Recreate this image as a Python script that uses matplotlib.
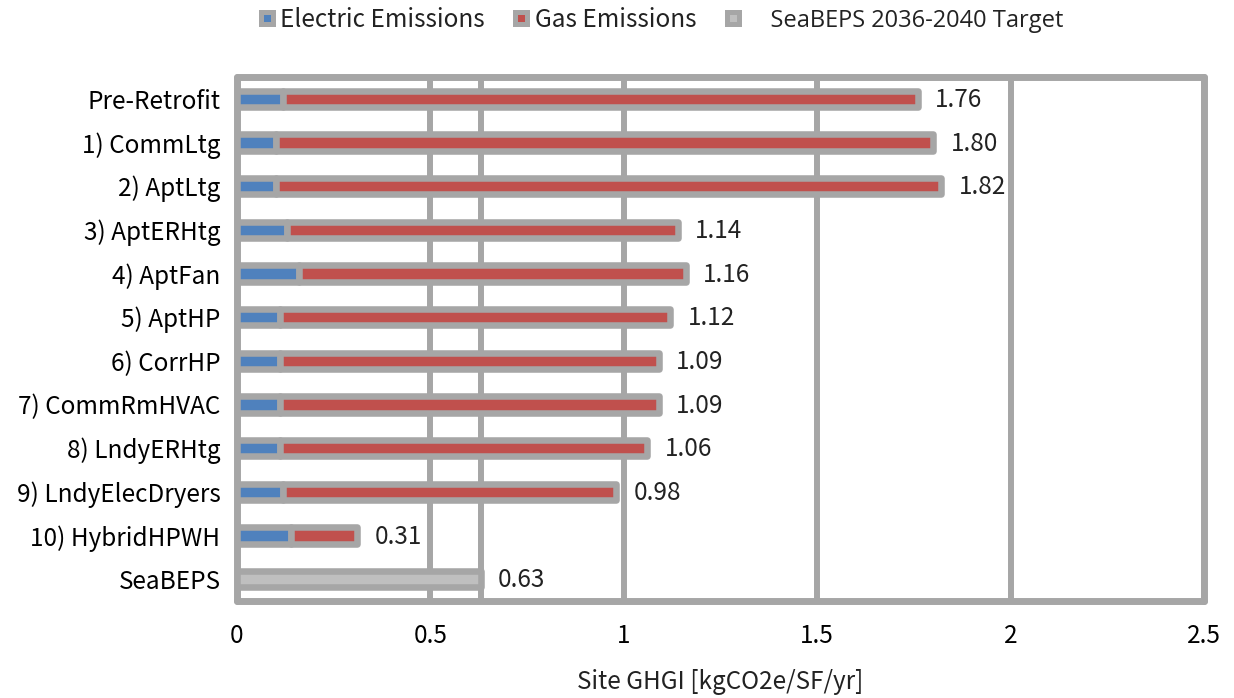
import numpy as np
import matplotlib
matplotlib.use("Agg")
import matplotlib.pyplot as plt
from matplotlib.lines import Line2D

# data
categories = ["Pre-Retrofit", "1) CommLtg", "2) AptLtg", "3) AptERHtg", "4) AptFan",
              "5) AptHP", "6) CorrHP", "7) CommRmHVAC", "8) LndyERHtg",
              "9) LndyElecDryers", "10) HybridHPWH", "SeaBEPS"]
electric = [0.12, 0.10, 0.10, 0.13, 0.16, 0.11, 0.11, 0.11, 0.11, 0.12, 0.14, 0.0]
gas = [1.64, 1.70, 1.72, 1.01, 1.00, 1.01, 0.98, 0.98, 0.95, 0.86, 0.17, 0.0]
target = [0, 0, 0, 0, 0, 0, 0, 0, 0, 0, 0, 0.63]
totals = [1.76, 1.80, 1.82, 1.14, 1.16, 1.12, 1.09, 1.09, 1.06, 0.98, 0.31, 0.63]
target_value = 0.63
xticks = [0, 0.5, 1, 1.5, 2, 2.5]
xtick_labels = ["0", "0.5", "1", "1.5", "2", "2.5"]

BLUE = "#4F81BD"
RED = "#C0504D"
GRAY = "#A6A6A6"
LIGHT = "#BFBFBF"
FS = 17.5

plt.rcParams["font.family"] = ["Noto Sans CJK JP", "DejaVu Sans"]

fig = plt.figure(figsize=(12.34, 6.98), dpi=100)
ax = fig.add_axes([237 / 1234, 1 - 601 / 698, (1204 - 237) / 1234, (601 - 77) / 698])

y = np.arange(len(categories))
h = 0.38
lw = 4.7
ax.barh(y, electric, height=h, color=BLUE, edgecolor=GRAY, linewidth=lw,
        joinstyle="round", zorder=3)
ax.barh(y, gas, left=electric, height=h, color=RED, edgecolor=GRAY, linewidth=lw,
        joinstyle="round", zorder=3)
ax.barh(y[-1], target[-1], height=h, color=LIGHT, edgecolor=GRAY, linewidth=lw,
        joinstyle="round", zorder=3)

# target line
ax.axvline(target_value, color=GRAY, linewidth=4.3, zorder=2)

for i, t in enumerate(totals):
    ax.text(t + 0.045, i + 0.03, f"{t:.2f}", va="center", ha="left", fontsize=FS,
            color="#222222", zorder=4)

ax.set_xlim(0, 2.5)
ax.set_ylim(len(categories) - 0.5, -0.5)
ax.set_yticks(y)
ax.set_yticklabels(categories, fontsize=FS)
ax.set_xticks(xticks)
ax.set_xticklabels(xtick_labels, fontsize=FS)
ax.tick_params(length=0)
ax.tick_params(axis="y", pad=12)
ax.tick_params(axis="x", pad=16)
ax.xaxis.grid(True, color=GRAY, linewidth=4.3, zorder=1)
ax.set_axisbelow(True)
for s in ax.spines.values():
    s.set_color(GRAY)
    s.set_linewidth(5)
    s.set_capstyle("round")
ax.set_xlabel("Site GHGI [kgCO2e/SF/yr]", fontsize=FS, labelpad=14, color="#222222")

handles = [
    Line2D([], [], linestyle="none", marker="s", markersize=8, markerfacecolor=BLUE,
           markeredgecolor=GRAY, markeredgewidth=3.6),
    Line2D([], [], linestyle="none", marker="s", markersize=8, markerfacecolor=RED,
           markeredgecolor=GRAY, markeredgewidth=3.6),
    Line2D([], [], linestyle="none", marker="s", markersize=8, markerfacecolor=LIGHT,
           markeredgecolor=GRAY, markeredgewidth=3.6),
]
labels = ["Electric Emissions", "Gas Emissions", "    SeaBEPS 2036-2040 Target"]
leg = fig.legend(handles, labels, loc="center", bbox_to_anchor=(0.535, 0.972), ncol=3,
                 frameon=False, fontsize=FS, handletextpad=0.15, columnspacing=1.1,
                 handlelength=0.8)
leg.get_texts()[2].set_fontfamily(["Open Sans", "DejaVu Sans"])
leg.get_texts()[2].set_fontsize(17)
for t in leg.get_texts():
    t.set_color("#222222")

fig.savefig("out.png", dpi=100)
